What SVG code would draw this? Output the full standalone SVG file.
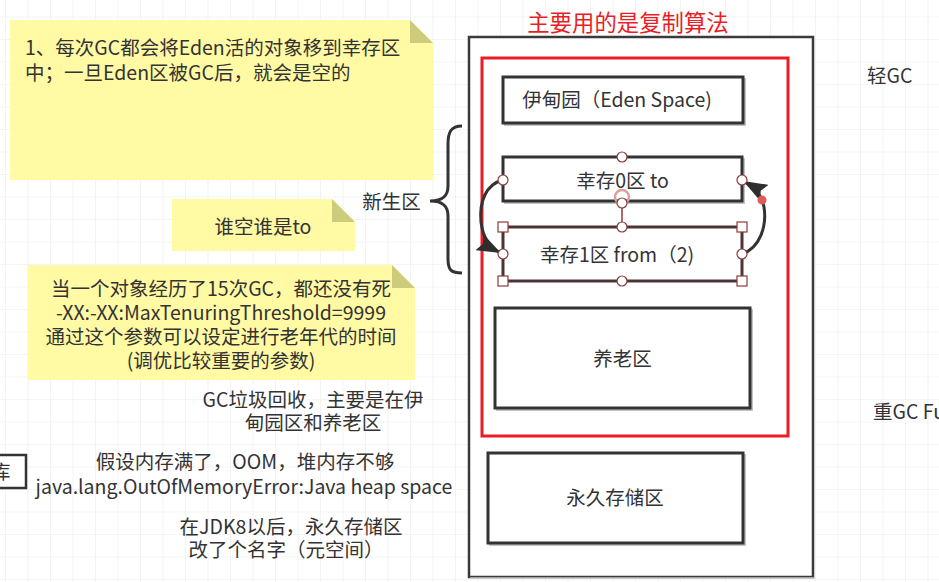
<svg xmlns="http://www.w3.org/2000/svg" width="939" height="582" viewBox="0 0 939 582">
  <style>
    text { font-family: "Noto Sans CJK SC", "Noto Sans", sans-serif; font-size: 19.5px; fill: #333; }
    .mid { text-anchor: middle; }
    .note { fill: #fffaa3; }
    .fold { fill: #cdcb7c; }
    .box { fill: #fff; stroke: #333; stroke-width: 3; }
    .shadow { fill: none; stroke: #c4c4c4; stroke-width: 2; }
    .hc { fill: #fff; stroke: #8b3a3a; stroke-width: 1.2; }
    .edge { fill: none; stroke: #333; stroke-width: 3; }
  </style>
  <defs>
    <pattern id="grid" x="5" y="16.5" width="22.5" height="22.5" patternUnits="userSpaceOnUse">
      <path d="M0 0 H22.5 M0 0 V22.5" fill="none" stroke="#ebebeb" stroke-width="1.2"/>
    </pattern>
    <marker id="arrow" viewBox="0 0 24 18" refX="22" refY="9" markerWidth="24" markerHeight="18" markerUnits="userSpaceOnUse" orient="auto">
      <path d="M0 0 L24 9 L0 18 L4 9 Z" fill="#2e2e2e"/>
    </marker>
  </defs>

  <!-- canvas -->
  <rect width="939" height="582" fill="#fff"/>
  <rect width="939" height="582" fill="url(#grid)"/>

  <!-- sticky notes -->
  <g id="note-eden">
    <polygon class="note" points="10,20 410,20 433,43 433,180 10,180"/>
    <polygon class="fold" points="410,20 433,43 410,43"/>
    <text x="25" y="55">1、每次GC都会将Eden活的对象移到幸存区</text>
    <text x="25" y="80">中；一旦Eden区被GC后，就会是空的</text>
  </g>
  <g id="note-to">
    <polygon class="note" points="172,199 332,199 355,222 355,251 172,251"/>
    <polygon class="fold" points="332,199 355,222 332,222"/>
    <text class="mid" x="263" y="234">谁空谁是to</text>
  </g>
  <g id="note-threshold">
    <polygon class="note" points="28,265 392,265 415,288 415,380 28,380"/>
    <polygon class="fold" points="392,265 415,288 392,288"/>
    <text class="mid" x="221" y="296">当一个对象经历了15次GC，都还没有死</text>
    <text class="mid" x="221" y="319.5">-XX:-XX:MaxTenuringThreshold=9999</text>
    <text class="mid" x="221" y="343.5">通过这个参数可以设定进行老年代的时间</text>
    <text class="mid" x="221" y="367.5">(调优比较重要的参数)</text>
  </g>

  <!-- free labels -->
  <g id="label-young">
    <text class="mid" x="391.5" y="209">新生区</text>
    <path d="M462 126 C451 126 448 132 448 144 L448 186 C448 196 443 201 430 201 C443 201 448 206 448 216 L448 259 C448 270 451 273 462 273" fill="none" stroke="#333" stroke-width="3"/>
  </g>
  <g id="label-title">
    <text class="mid" x="628" y="31" style="fill:#ea1d25;font-size:22.4px">主要用的是复制算法</text>
  </g>
  <g id="label-minor">
    <text x="867" y="83">轻GC</text>
  </g>
  <g id="label-major">
    <text x="873" y="419">重GC Fu</text>
  </g>
  <g id="label-gc">
    <text class="mid" x="313" y="407">GC垃圾回收，主要是在伊</text>
    <text class="mid" x="313" y="430">甸园区和养老区</text>
  </g>
  <g id="label-oom">
    <text class="mid" x="245" y="469">假设内存满了，OOM，堆内存不够</text>
    <text class="mid" x="244" y="494">java.lang.OutOfMemoryError:Java heap space</text>
  </g>
  <g id="label-meta">
    <text class="mid" x="291" y="534">在JDK8以后，永久存储区</text>
    <text class="mid" x="286" y="557">改了个名字（元空间）</text>
  </g>
  <g id="partial-box">
    <rect x="-10" y="455" width="36" height="33" class="box" style="stroke-width:2.5"/>
    <text x="-9" y="479">库</text>
  </g>

  <!-- heap -->
  <g id="heap">
    <rect x="469" y="37" width="344" height="540" fill="#fff" stroke="#3a3a3a" stroke-width="2.5"/>
    <path d="M470 578 H815" stroke="#c8c8c8" stroke-width="1.5"/>
  </g>
  <g id="copy-region">
    <rect x="482" y="58" width="306" height="378" fill="none" stroke="#ed1c24" stroke-width="3"/>
  </g>
  <g id="eden">
    <rect x="505" y="79" width="240" height="46" class="shadow"/>
    <rect x="503" y="77" width="240" height="46" class="box"/>
    <text class="mid" x="617" y="107">伊甸园（Eden Space)</text>
  </g>
  <g id="survivor0">
    <rect x="505" y="159" width="239" height="44" class="shadow"/>
    <rect x="503" y="157" width="239" height="44" class="box"/>
    <text class="mid" x="622.5" y="188">幸存0区 to</text>
  </g>
  <g id="survivor1">
    <rect x="503" y="227" width="239" height="54" class="box" style="stroke:#4d3434"/>
    <text class="mid" x="617" y="262">幸存1区 from（2)</text>
  </g>
  <g id="old">
    <rect x="497" y="310" width="255" height="100" class="shadow"/>
    <rect x="495" y="308" width="255" height="100" class="box"/>
    <text class="mid" x="622.5" y="366">养老区</text>
  </g>
  <g id="permanent">
    <rect x="490" y="455" width="255" height="90" class="shadow"/>
    <rect x="488" y="453" width="255" height="90" class="box"/>
    <text class="mid" x="615" y="505">永久存储区</text>
  </g>

  <!-- connectors -->
  <g id="connectors">
    <path class="edge" d="M503 180 C486 184 479 202 481 222 C483 238 489 247 499 252" marker-end="url(#arrow)"/>
    <path class="edge" d="M742 254 C760 248 767 226 764 207 C762 195 754 187 745 182" marker-end="url(#arrow)"/>
    <circle cx="762" cy="200" r="4.5" fill="#e05a5a"/>
  </g>

  <!-- selection handles -->
  <g id="handles">
    <circle cx="622" cy="197" r="7" fill="none" stroke="#d8a0a0" stroke-width="2.5"/>
    <line x1="622" y1="203" x2="622" y2="227" stroke="#8b3a3a" stroke-width="1.5"/>
    <circle class="hc" cx="622" cy="157" r="5"/>
    <circle class="hc" cx="503" cy="180" r="5"/>
    <circle class="hc" cx="742" cy="180" r="5"/>
    <circle class="hc" cx="622" cy="203" r="5"/>
    <circle class="hc" cx="622" cy="227" r="5"/>
    <circle class="hc" cx="622" cy="281" r="5"/>
    <circle class="hc" cx="503" cy="254" r="5"/>
    <circle class="hc" cx="742" cy="254" r="5"/>
    <rect class="hc" x="498" y="222" width="10" height="10"/>
    <rect class="hc" x="737" y="222" width="10" height="10"/>
    <rect class="hc" x="498" y="276" width="10" height="10"/>
    <rect class="hc" x="737" y="276" width="10" height="10"/>
  </g>
</svg>
